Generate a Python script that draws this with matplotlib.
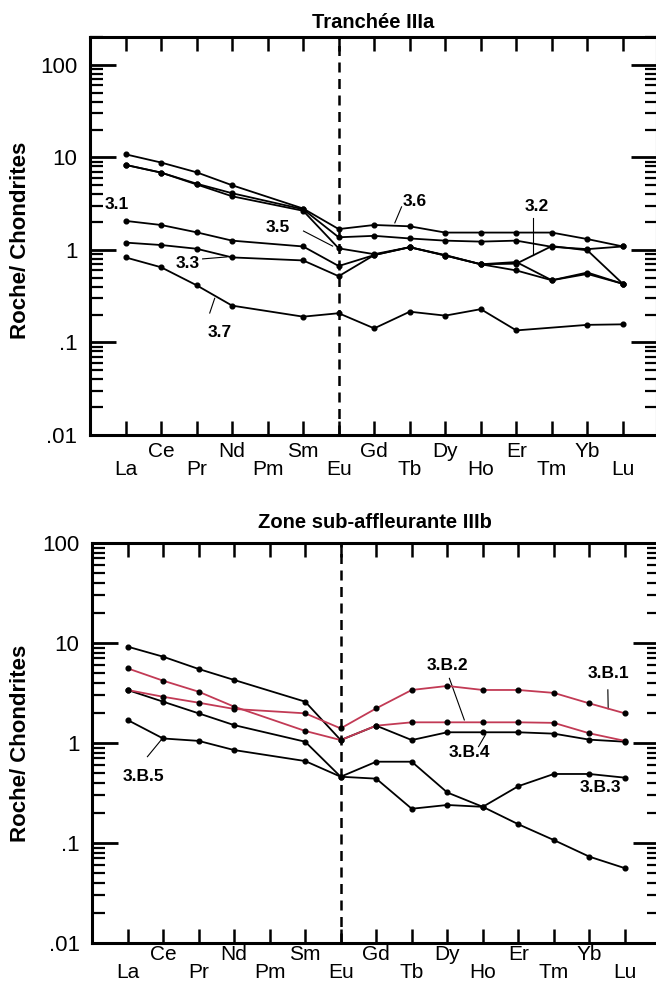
import numpy as np
import matplotlib.pyplot as plt
from matplotlib.ticker import LogLocator, NullFormatter

plt.rcParams['font.family'] = ['Liberation Sans', 'DejaVu Sans']

nan = np.nan
elements = ['La', 'Ce', 'Pr', 'Nd', 'Pm', 'Sm', 'Eu', 'Gd', 'Tb', 'Dy', 'Ho', 'Er', 'Tm', 'Yb', 'Lu']

# Tranchée IIIa, normalised to chondrites (Pm not analysed)
t3_6 = [10.8, 8.8, 6.9, 5.0, nan, 2.8, 1.68, 1.86, 1.80, 1.54, 1.54, 1.54, 1.54, 1.31, 1.09]
t3_2 = [8.3, 6.85, 5.2, 4.1, nan, 2.75, 1.37, 1.42, 1.33, 1.26, 1.23, 1.26, 1.08, 1.02, 1.09]
t3_5 = [8.3, 6.85, 5.1, 3.8, nan, 2.65, 1.04, 0.90, 1.07, 0.88, 0.70, 0.71, 1.10, 0.99, 0.43]
t3_1 = [2.06, 1.86, 1.55, 1.26, nan, 1.09, 0.67, 0.88, 1.07, 0.87, 0.70, 0.60, 0.47, 0.57, 0.43]
t3_3 = [1.2, 1.13, 1.03, 0.83, nan, 0.77, 0.52, 0.88, 1.07, 0.87, 0.70, 0.74, 0.47, 0.55, 0.43]
t3_7 = [0.83, 0.65, 0.415, 0.25, nan, 0.19, 0.207, 0.142, 0.215, 0.195, 0.229, 0.135, nan, 0.155, 0.157]

# Zone sub-affleurante IIIb
b3_1 = [3.39, 2.9, 2.53, 2.19, nan, 1.98, 1.40, 2.22, 3.39, 3.72, 3.39, 3.39, 3.17, 2.49, 1.98]
b3_2 = [5.58, 4.2, 3.26, 2.31, nan, 1.32, 1.07, 1.49, 1.61, 1.61, 1.61, 1.61, 1.59, 1.25, 1.05]
b3_4 = [9.2, 7.3, 5.5, 4.27, nan, 2.59, 1.07, 1.49, 1.07, 1.28, 1.28, 1.28, 1.24, 1.08, 1.03]
b3_3 = [3.39, 2.59, 1.98, 1.51, nan, 1.03, 0.46, 0.44, 0.22, 0.24, 0.23, 0.37, 0.49, 0.49, 0.45]
b3_5 = [1.70, 1.11, 1.05, 0.85, nan, 0.66, 0.46, 0.65, 0.65, 0.32, 0.23, 0.154, 0.107, 0.073, 0.056]

red = '#c23a55'
x = np.arange(len(elements))


def draw_series(ax, vals, color):
    v = np.asarray(vals, dtype=float)
    ok = ~np.isnan(v)
    ax.plot(x[ok], v[ok], '-', color=color, lw=1.3, marker='o', ms=3.4,
            mfc='black', mec='black', zorder=3)


def setup_axes(ax, ymax, xpad):
    ax.set_yscale('log')
    ax.set_xlim(-1, 14.96)
    ax.set_ylim(0.01, ymax)
    ax.set_yticks([0.01, 0.1, 1, 10, 100])
    ax.set_yticklabels(['.01', '.1', '1', '10', '100'], fontsize=16)
    ax.yaxis.set_minor_locator(LogLocator(base=10, subs=np.arange(2, 10)))
    ax.yaxis.set_minor_formatter(NullFormatter())
    ax.tick_params(axis='y', which='major', direction='in', length=19, width=2,
                   left=True, right=True, pad=9)
    ax.tick_params(axis='y', which='minor', direction='in', length=9, width=1.6,
                   left=True, right=True)
    labels = [('\n' + e) if i % 2 == 0 else e for i, e in enumerate(elements)]
    ax.set_xticks(x)
    ax.set_xticklabels(labels, fontsize=15)
    for t in ax.get_xticklabels():
        t.set_linespacing(0.95)
    ax.tick_params(axis='x', direction='in', length=10, width=1.8,
                   top=True, bottom=True, pad=xpad)
    for s in ax.spines.values():
        s.set_linewidth(2.2)
    ax.axvline(6, color='black', lw=1.8, ls=(0, (4, 2.6)), zorder=2)
    ax.set_ylabel('Roche/ Chondrites', fontsize=16, fontweight='bold')


def label(ax, txt, tx, ty, leader=None):
    ax.text(tx, ty, txt, fontsize=12.5, fontweight='bold', ha='center', va='center')
    if leader is not None:
        (x0, y0), (x1, y1) = leader
        ax.plot([x0, x1], [y0, y1], color='black', lw=0.8)


fig = plt.figure(figsize=(6.56, 9.99), dpi=100)

# upper panel
ax1 = fig.add_axes([90 / 656, 1 - 435 / 999, 567 / 656, 398 / 999])
setup_axes(ax1, 200, 5)
for vals in [t3_6, t3_2, t3_5, t3_1, t3_3, t3_7]:
    draw_series(ax1, vals, 'black')
ax1.yaxis.set_label_coords(-0.104, 0.49)
fig.text(373 / 656, 1 - 22 / 999, 'Tranchée IIIa', ha='center', va='center',
         fontsize=14.5, fontweight='bold')
label(ax1, '3.1', -0.25, 3.06)
label(ax1, '3.6', 8.14, 3.3, ((7.77, 2.92), (7.58, 1.96)))
label(ax1, '3.2', 11.58, 2.92, ((11.46, 2.22), (11.46, 0.88)))
label(ax1, '3.5', 4.28, 1.73, ((5.01, 1.60), (5.83, 1.10)))
label(ax1, '3.3', 1.75, 0.706, ((2.17, 0.80), (2.85, 0.84)))
label(ax1, '3.7', 2.65, 0.127, ((2.37, 0.208), (2.51, 0.30)))

# lower panel
ax2 = fig.add_axes([92 / 656, 1 - 943 / 999, 567 / 656, 400 / 999])
setup_axes(ax2, 100, 1.5)
for vals, c in [(b3_4, 'black'), (b3_3, 'black'), (b3_5, 'black'),
                (b3_2, red), (b3_1, red)]:
    draw_series(ax2, vals, c)
ax2.yaxis.set_label_coords(-0.107, 0.5)
fig.text(375 / 656, 1 - 523 / 999, 'Zone sub-affleurante IIIb', ha='center', va='center',
         fontsize=14.5, fontweight='bold')
label(ax2, '3.B.2', 9.0, 5.9, ((9.06, 4.43), (9.48, 1.70)))
label(ax2, '3.B.1', 13.55, 4.9, ((13.52, 3.4), (13.53, 2.2)))
label(ax2, '3.B.4', 9.63, 0.80, ((9.88, 0.92), (10.08, 1.22)))
label(ax2, '3.B.3', 13.3, 0.36)
label(ax2, '3.B.5', 0.46, 0.46, ((0.56, 0.73), (0.99, 1.12)))

fig.savefig('out.png', dpi=100)
